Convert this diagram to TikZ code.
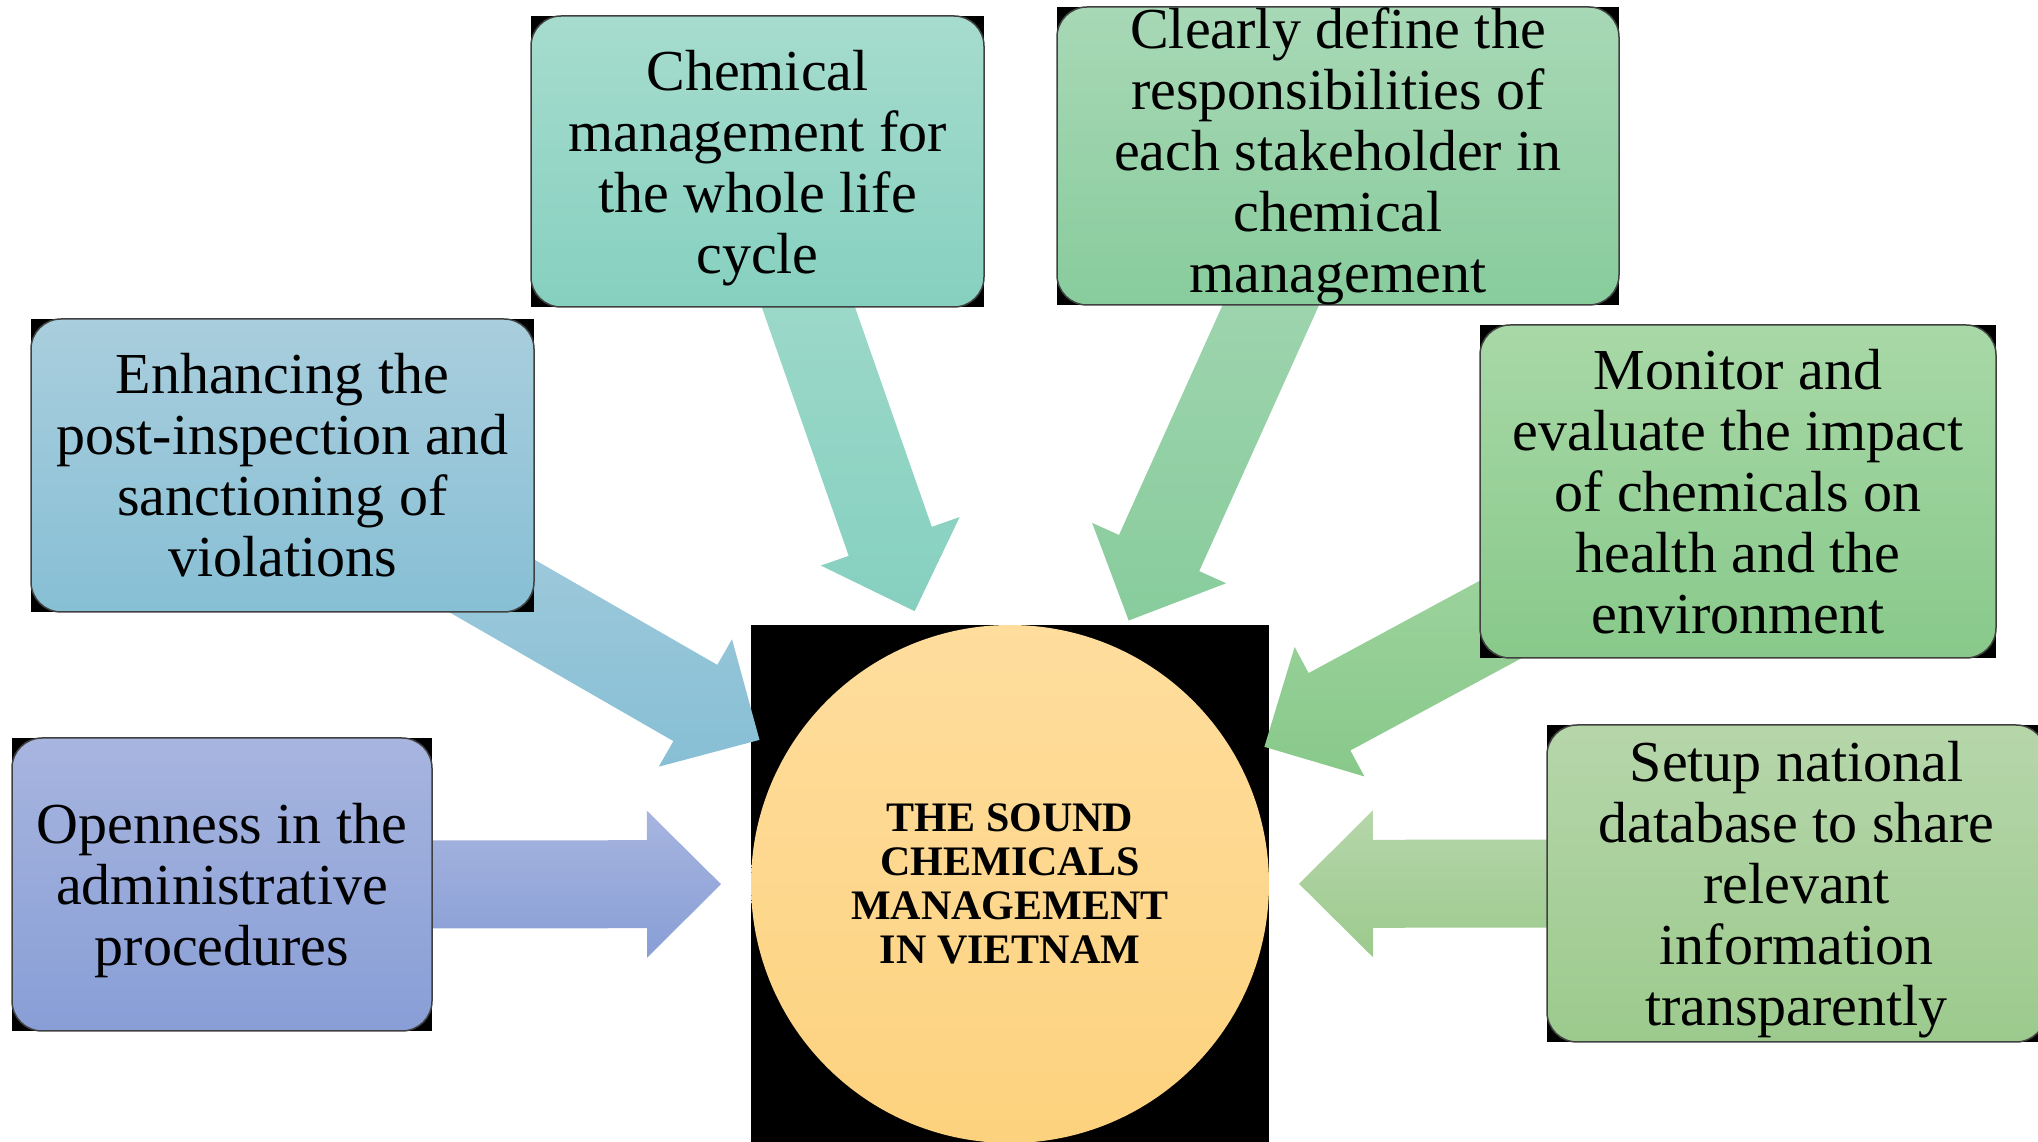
\documentclass[tikz,border=0pt]{standalone}
\usepackage{fontspec}
\setmainfont{Liberation Serif}
\usetikzlibrary{calc}

\definecolor{openTop}{HTML}{A7B5DF}
\definecolor{openBot}{HTML}{889ED6}
\definecolor{enhTop}{HTML}{A9CEDD}
\definecolor{enhBot}{HTML}{87BFD5}
\definecolor{lifeTop}{HTML}{A6DCCD}
\definecolor{lifeBot}{HTML}{86D0C0}
\definecolor{dutyTop}{HTML}{A8D8B6}
\definecolor{dutyBot}{HTML}{88CC9C}
\definecolor{monTop}{HTML}{A8D8A7}
\definecolor{monBot}{HTML}{88C98A}
\definecolor{dbTop}{HTML}{B6D6AA}
\definecolor{dbBot}{HTML}{9CCA8D}
\definecolor{hubTop}{HTML}{FEDD9D}
\definecolor{hubBot}{HTML}{FDD27E}

\pgfdeclarelayer{back}
\pgfsetlayers{back,main}

\tikzset{
  box/.style={rectangle, rounded corners=30pt, draw=black!75, line width=1.5pt,
    inner sep=0pt, outer sep=0pt, align=center, font=\fontsize{58}{61}\selectfont},
  hubnode/.style={circle, minimum size=518pt, inner sep=0pt, outer sep=0pt,
    top color=hubTop, bottom color=hubBot, align=center,
    font=\bfseries\fontsize{42}{44}\selectfont},
  openfill/.style={top color=openTop, bottom color=openBot},
  enhfill/.style={top color=enhTop, bottom color=enhBot},
  lifefill/.style={top color=lifeTop, bottom color=lifeBot},
  dutyfill/.style={top color=dutyTop, bottom color=dutyBot},
  monfill/.style={top color=monTop, bottom color=monBot},
  dbfill/.style={top color=dbTop, bottom color=dbBot}
}

\newcommand{\feedarrow}[2]{%
  \coordinate (tip) at ($(hub.center)!289pt!(#1.center)$);
  \coordinate (neck) at ($(hub.center)!363pt!(#1.center)$);
  \path[#2] (tip) -- ($(neck)!73.5pt!90:(#1.center)$) -- ($(neck)!44pt!90:(#1.center)$)
    -- ($(#1.center)!44pt!-90:(hub.center)$) -- ($(#1.center)!44pt!90:(hub.center)$)
    -- ($(neck)!44pt!-90:(#1.center)$) -- ($(neck)!73.5pt!-90:(#1.center)$) -- cycle;}

\begin{document}
\begin{tikzpicture}[x=1pt, y=1pt]
  \useasboundingbox (0,0) rectangle (2038,1141);
  \node[hubnode] (hub) at (1010,257) {THE SOUND\\CHEMICALS\\MANAGEMENT\\IN VIETNAM};
  \node[box, openfill, text depth=0pt, minimum width=420pt, minimum height=293pt] (open) at (222,256.5)
    {Openness in the\\administrative\\procedures};
  \node[box, enhfill, minimum width=503pt, minimum height=293pt] (enhance) at (282.5,675.5)
    {Enhancing the\\post-inspection and\\sanctioning of\\violations};
  \node[box, lifefill, text depth=0pt, minimum width=453pt, minimum height=291pt] (lifecycle) at (757.5,979.5)
    {Chemical\\management for\\the whole life\\cycle};
  \node[box, dutyfill, minimum width=562pt, minimum height=298pt] (duty) at (1338,985)
    {Clearly define the\\responsibilities of\\each stakeholder in\\chemical\\management};
  \node[box, monfill, minimum width=516pt, minimum height=333pt] (monitor) at (1738,649.5)
    {Monitor and\\evaluate the impact\\of chemicals on\\health and the\\environment};
  \node[box, dbfill, text depth=0pt, minimum width=499pt, minimum height=317pt] (database) at (1796.5,257.5)
    {Setup national\\database to share\\relevant\\information\\transparently};
  \begin{pgfonlayer}{back}
    \fill (hub.north -| hub.west) rectangle (hub.south -| hub.east);
    \feedarrow{open}{openfill}
    \feedarrow{enhance}{enhfill}
    \feedarrow{lifecycle}{lifefill}
    \feedarrow{duty}{dutyfill}
    \feedarrow{monitor}{monfill}
    \feedarrow{database}{dbfill}
    \foreach \b in {open,enhance,lifecycle,duty,monitor,database}
      \fill (\b.south west) rectangle (\b.north east);
  \end{pgfonlayer}
\end{tikzpicture}
\end{document}
